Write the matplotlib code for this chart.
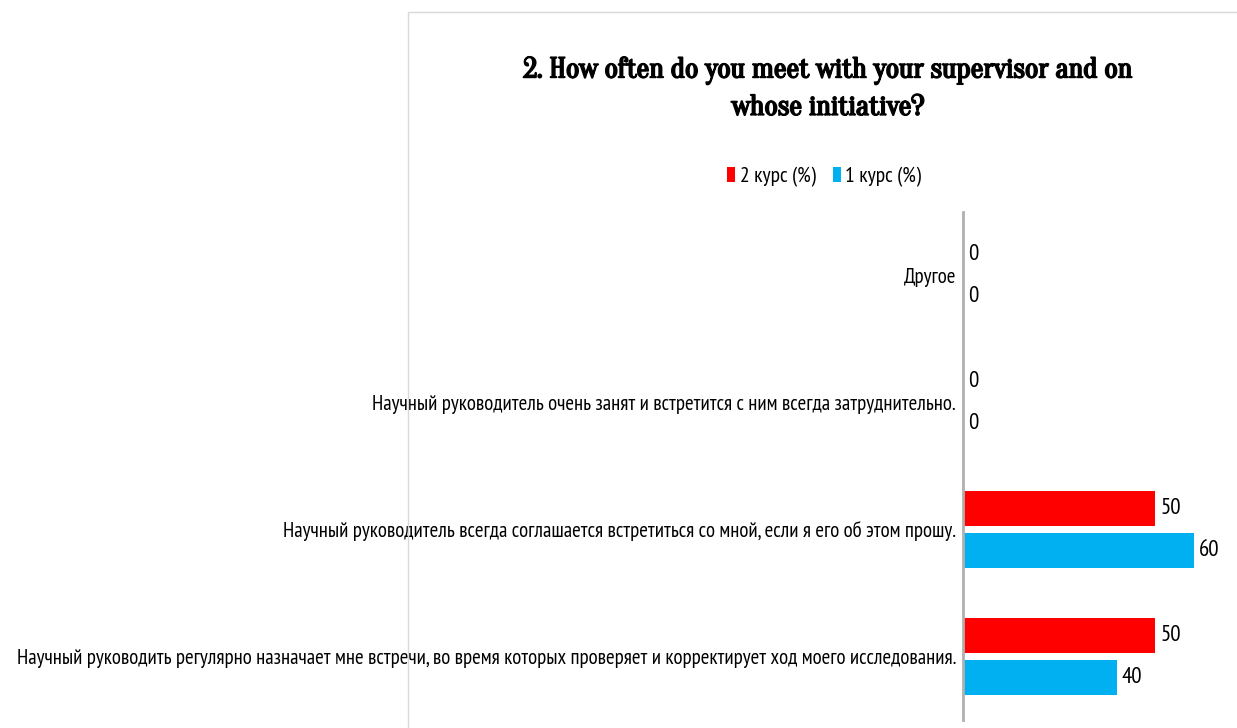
import matplotlib
matplotlib.use("Agg")
import matplotlib.pyplot as plt
import matplotlib.patheffects as pe
from matplotlib.patches import Rectangle
import numpy as np

categories = [
    "Научный руководить регулярно назначает мне встречи, во время которых проверяет и корректирует ход моего исследования.",
    "Научный руководитель всегда соглашается встретиться со мной, если я его об этом прошу.",
    "Научный руководитель очень занят и встретится с ним всегда затруднительно.",
    "Другое",
]
series_names = ["2 курс (%)", "1 курс (%)"]
course2 = [50, 50, 0, 0]
course1 = [40, 60, 0, 0]
colors = ["#FF0000", "#00B0F0"]
title = "2. How often do you meet with your supervisor and on\nwhose initiative?"

LBL = ["PT Sans Narrow", "DejaVu Sans"]
TTL = ["Oranienbaum", "Liberation Serif"]

W, H = 1237, 728
fig = plt.figure(figsize=(W / 100, H / 100), dpi=100)

ax = fig.add_axes([963 / W, 1 - 720 / H, (1236 - 963) / W, (720 - 212) / H])
y = np.arange(len(categories))
h = 0.27
off = 0.165
ax.barh(y + off, course2, height=h, color=colors[0], label=series_names[0])
ax.barh(y - off, course1, height=h, color=colors[1], label=series_names[1])
ax.set_xlim(0, 71)
ax.set_ylim(-0.5, len(categories) - 0.5)
ax.set_yticks(y)
ax.set_yticklabels(categories, fontsize=15, family=LBL)
ax.tick_params(axis="y", length=0, pad=5)
ax.set_xticks([])
for s in ["top", "right", "bottom"]:
    ax.spines[s].set_visible(False)
ax.spines["left"].set_color("#b0b0b0")
ax.spines["left"].set_linewidth(2)
ax.patch.set_alpha(0)
for i in range(len(categories)):
    ax.annotate(str(course2[i]), (course2[i], y[i] + off), xytext=(3.5, 0), textcoords="offset points",
                va="center", fontsize=16.5, family=LBL)
    ax.annotate(str(course1[i]), (course1[i], y[i] - off), xytext=(3.5, 0), textcoords="offset points",
                va="center", fontsize=16.5, family=LBL)

fig.patches.append(Rectangle((408 / W, -0.1), 1, 1 - 12 / H + 0.1, transform=fig.transFigure,
                             fill=False, edgecolor="#d9d9d9", linewidth=1))
fig.text(828 / W, 1 - 90 / H, title, ha="center", va="center", fontsize=20.5, family=TTL,
         linespacing=1.6, path_effects=[pe.withStroke(linewidth=1.3, foreground="black")])
fig.legend(loc="center", bbox_to_anchor=(824 / W, 1 - 177 / H), ncol=2, frameon=False,
           prop={"family": LBL, "size": 15.5}, handlelength=0.4, handleheight=0.7,
           handletextpad=0.2, columnspacing=0.8)
fig.savefig("out.png", dpi=100)
